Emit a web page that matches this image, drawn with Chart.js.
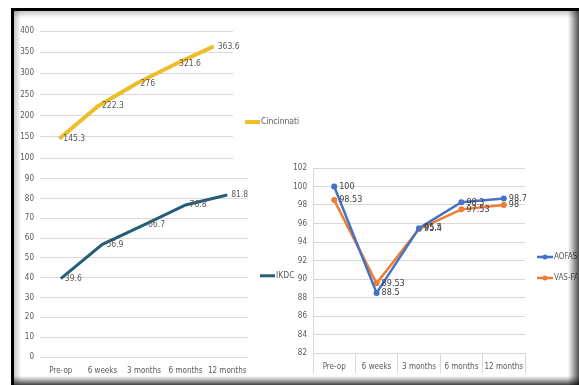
<!DOCTYPE html>
<html>
<head>
<meta charset="utf-8">
<script src="https://cdn.jsdelivr.net/npm/chart.js@4.4.1/dist/chart.umd.min.js"></script>
<style>
body{margin:0;width:579px;height:385px;overflow:hidden;background:#fff;position:relative;}
#frame{position:absolute;left:11px;top:8px;width:600px;height:400px;border-left:3px solid #000;border-top:3px solid #000;background:#fff;}
.shade{position:absolute;pointer-events:none;z-index:5;}
#shadeTop{left:14px;top:11px;width:565px;height:7px;background:linear-gradient(to bottom,rgba(0,0,0,0.22),rgba(0,0,0,0));}
#shadeLeft{left:14px;top:11px;width:7px;height:374px;background:linear-gradient(to right,rgba(0,0,0,0.22),rgba(0,0,0,0));}
#shadeRight{left:568px;top:11px;width:11px;height:374px;background:linear-gradient(to right,rgba(0,0,0,0),rgba(0,0,0,0.3) 45%,rgba(0,0,0,0.7));}
#shadeBottom{left:14px;top:376px;width:565px;height:9px;background:linear-gradient(to bottom,rgba(0,0,0,0),rgba(0,0,0,0.3) 45%,rgba(0,0,0,0.75));}
canvas{position:absolute;}
</style>
</head>
<body>
<div id="frame"></div>
<canvas id="cincinnatiChart" width="290" height="150" style="left:14px;top:20px"></canvas>
<canvas id="ikdcChart" width="290" height="210" style="left:14px;top:168px"></canvas>
<canvas id="footChart" width="292" height="225" style="left:285px;top:155px"></canvas>
<div class="shade" id="shadeTop"></div>
<div class="shade" id="shadeLeft"></div>
<div class="shade" id="shadeRight"></div>
<div class="shade" id="shadeBottom"></div>
<script>
// donnees
var periods = ["Pre-op", "6 weeks", "3 months", "6 months", "12 months"];
var cincinnati = [145.3, 222.3, 276, 321.6, 363.6];
var ikdc = [39.6, 56.9, 66.7, 76.8, 81.8];
var aofas = [100, 88.5, 95.5, 98.3, 98.7];
var vasfa = [98.53, 89.53, 95.4, 97.53, 98];

var FONT = "'Liberation Sans Narrow', 'DejaVu Sans Condensed', 'Liberation Sans', sans-serif";
var GRID = "#d9d9d9";
var TEXT = "#595959";

// etiquettes de valeur a droite de chaque point
var valueLabels = {
  id: "valueLabels",
  afterDatasetsDraw: function (chart, args, opts) {
    var ctx = chart.ctx;
    ctx.save();
    ctx.font = opts.size + "px " + FONT;
    ctx.fillStyle = opts.color;
    ctx.textBaseline = "middle";
    ctx.textAlign = "left";
    chart.data.datasets.forEach(function (ds, i) {
      chart.getDatasetMeta(i).data.forEach(function (pt, j) {
        ctx.fillText(String(ds.data[j]), pt.x + opts.dx, pt.y);
      });
    });
    ctx.restore();
  }
};

// legende sur le cote, facon Excel
var sideLegend = {
  id: "sideLegend",
  afterDraw: function (chart, args, opts) {
    var ctx = chart.ctx;
    var area = chart.chartArea;
    ctx.save();
    chart.data.datasets.forEach(function (ds, i) {
      var x = area.right + opts.dx;
      var y = area.top + opts.dy + i * (opts.gap || 0);
      ctx.strokeStyle = ds.borderColor;
      ctx.lineWidth = ds.borderWidth;
      ctx.beginPath();
      ctx.moveTo(x, y);
      ctx.lineTo(x + opts.len, y);
      ctx.stroke();
      if (ds.pointRadius) {
        ctx.fillStyle = ds.borderColor;
        ctx.beginPath();
        ctx.arc(x + opts.len / 2, y, ds.pointRadius - 0.5, 0, Math.PI * 2);
        ctx.fill();
      }
      ctx.font = opts.size + "px " + FONT;
      ctx.fillStyle = TEXT;
      ctx.textBaseline = "middle";
      ctx.fillText(ds.label, x + opts.len + 1, y);
    });
    ctx.restore();
  }
};

function yScale(min, max, step, width) {
  return {
    min: min,
    max: max,
    ticks: { stepSize: step, color: TEXT, padding: 6, font: { family: FONT, size: 8 } },
    grid: { color: GRID, drawTicks: false },
    border: { display: false },
    afterFit: function (scale) { scale.width = width; }
  };
}

new Chart(document.querySelector("#cincinnatiChart"), {
  type: "line",
  data: {
    labels: periods,
    datasets: [{
      label: "Cincinnati",
      data: cincinnati,
      borderColor: "#eebd2b",
      borderWidth: 4,
      pointRadius: 0,
      tension: 0
    }]
  },
  plugins: [valueLabels, sideLegend],
  options: {
    responsive: false,
    animation: false,
    layout: { padding: { left: 0, top: 11, right: 71, bottom: 12 } },
    scales: {
      x: { display: false, offset: true },
      y: yScale(100, 400, 50, 26)
    },
    plugins: {
      legend: { display: false },
      tooltip: { enabled: false },
      valueLabels: { size: 8.5, color: TEXT, dx: 4 },
      sideLegend: { dx: 12, dy: 91, len: 15, size: 8.5 }
    }
  }
});

new Chart(document.querySelector("#ikdcChart"), {
  type: "line",
  data: {
    labels: periods,
    datasets: [{
      label: "IKDC",
      data: ikdc,
      borderColor: "#255e78",
      borderWidth: 3,
      pointRadius: 0,
      tension: 0
    }]
  },
  plugins: [valueLabels, sideLegend],
  options: {
    responsive: false,
    animation: false,
    layout: { padding: { left: 0, top: 10, right: 56, bottom: 2 } },
    scales: {
      x: {
        offset: true,
        ticks: { color: TEXT, padding: 1, maxRotation: 0, font: { family: FONT, size: 8 } },
        grid: { display: false },
        border: { display: false },
        afterFit: function (scale) { scale.height = 19; }
      },
      y: yScale(0, 90, 10, 26)
    },
    plugins: {
      legend: { display: false },
      tooltip: { enabled: false },
      valueLabels: { size: 8.5, color: TEXT, dx: 4 },
      sideLegend: { dx: 12, dy: 97, len: 15, size: 8.5 }
    }
  }
});

new Chart(document.querySelector("#footChart"), {
  type: "line",
  data: {
    labels: periods,
    datasets: [{
      label: "AOFAS",
      data: aofas,
      borderColor: "#4472c4",
      backgroundColor: "#4472c4",
      borderWidth: 2.5,
      pointRadius: 3,
      pointBorderWidth: 0,
      tension: 0
    }, {
      label: "VAS-FA",
      data: vasfa,
      borderColor: "#ed7d31",
      backgroundColor: "#ed7d31",
      borderWidth: 2.5,
      pointRadius: 3,
      pointBorderWidth: 0,
      tension: 0
    }]
  },
  plugins: [valueLabels, sideLegend],
  options: {
    responsive: false,
    animation: false,
    layout: { padding: { left: 0, top: 13, right: 52, bottom: 5 } },
    scales: {
      x: {
        offset: true,
        ticks: { color: TEXT, padding: -11, maxRotation: 0, font: { family: FONT, size: 8 } },
        grid: { offset: true, drawOnChartArea: false, drawTicks: true, tickLength: 20, color: GRID },
        border: { display: true, color: GRID },
        afterFit: function (scale) { scale.height = 22; }
      },
      y: {
        min: 82,
        max: 102,
        ticks: { stepSize: 2, color: TEXT, padding: 6, font: { family: FONT, size: 8 } },
        grid: { color: GRID, drawTicks: false },
        border: { display: true, color: GRID },
        afterFit: function (scale) { scale.width = 28; }
      }
    },
    plugins: {
      legend: { display: false },
      tooltip: { enabled: false },
      valueLabels: { size: 9, color: "#404040", dx: 5 },
      sideLegend: { dx: 12, dy: 89, gap: 21, len: 16, size: 8 }
    }
  }
});
</script>
</body>
</html>
